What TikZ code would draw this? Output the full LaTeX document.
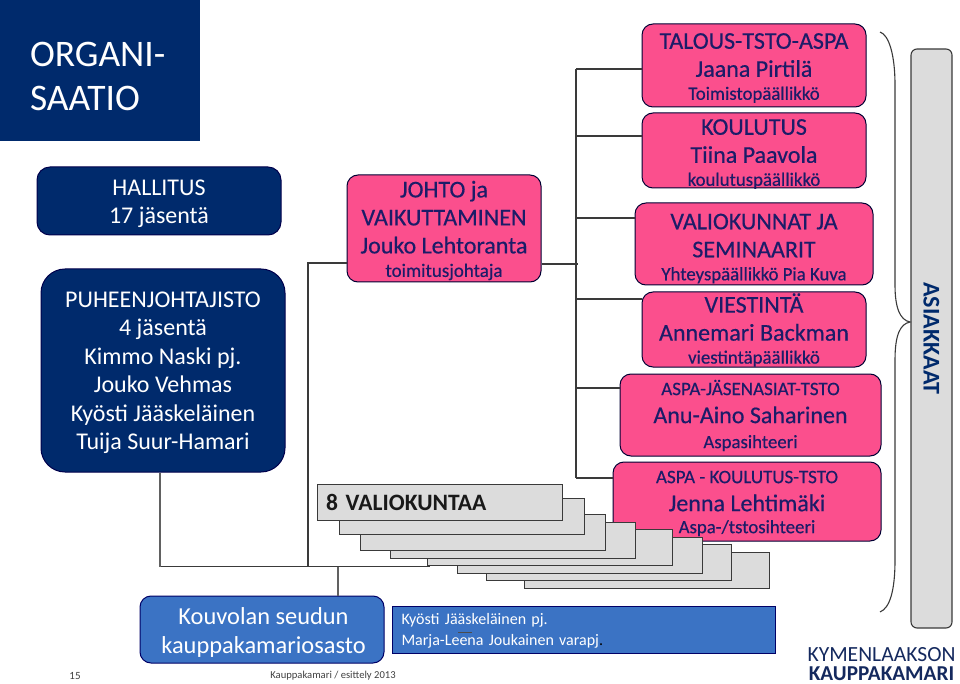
\documentclass[tikz,border=0pt]{standalone}
\usepackage{fontspec}
\setmainfont{Carlito}
\newfontfamily\semib[FakeBold=0.45]{Carlito}
\definecolor{pinkbox}{HTML}{FB4F8D}
\definecolor{navybox}{HTML}{002A6C}
\definecolor{inkblue}{HTML}{1C1C68}
\definecolor{bluebox}{HTML}{3B73C4}
\definecolor{greybox}{HTML}{DCDCDC}
\definecolor{lineg}{HTML}{3A3A3A}
\definecolor{logoblue}{HTML}{14295E}
\newcommand{\fs}[2]{\fontsize{#1}{#2}\selectfont}
\newcommand{\smalll}{\semib\fs{18.8}{24}}
\newcommand{\headl}{\semib\fs{19}{24}}
\tikzset{
  x=1pt,y=-1pt,
  pinkb/.style={draw=black!80!blue,line width=1pt,fill=pinkbox,rounded corners=11pt,inner sep=0pt},
  pinkt/.style={text=inkblue,align=center,inner sep=0pt,font=\semib\fs{24}{28}},
  navyb/.style={draw=black!70!blue,line width=1pt,fill=navybox,rounded corners=13pt,inner sep=0pt},
  navyt/.style={text=white,align=center,inner sep=0pt,font=\fs{24}{28.5}},
  blueb/.style={draw=black!60!blue,line width=1pt,fill=bluebox,text=white,inner sep=0pt},
  stackb/.style={draw=lineg,line width=1pt,fill=greybox,minimum width=245pt,minimum height=36pt,inner sep=0pt},
  conn/.style={draw=lineg,line width=1.1pt},
  connb/.style={draw=lineg!80,line width=1.5pt},
}
\begin{document}
\begin{tikzpicture}
\useasboundingbox (0,0) rectangle (960,684);
% header
\node[fill=navybox,minimum width=200pt,minimum height=141pt,inner sep=0pt,
  label={[text=white,align=left,inner sep=0pt,font=\fs{37.5}{43.5},text width=140pt,yshift=-6pt]center:{ORGANI-\\SAATIO}}] (org) at (100,70.5) {};
% connector anchors
\coordinate (busR) at (576,69);
\coordinate (busRb) at (576,478);
\coordinate (joinR) at (578,264);
\coordinate (busL) at (308,263);
\coordinate (busBl) at (160,566.5);
\coordinate (busBm) at (308,566.5);
\coordinate (busBk) at (338,566.5);
\coordinate (busBr) at (430,566.5);
% left column
\node[navyb,minimum width=244pt,minimum height=68pt,
  label={[navyt,yshift=-3pt]center:{HALLITUS\\17 jäsentä}}] (hall) at (159,201) {};
\node[navyb,rounded corners=24pt,minimum width=244pt,minimum height=203pt,
  label={[navyt,yshift=-2.5pt]center:{PUHEENJOHTAJISTO\\4 jäsentä\\Kimmo Naski pj.\\Jouko Vehmas\\Kyösti Jääskeläinen\\Tuija Suur-Hamari}}] (puh) at (163,370.5) {};
% middle
\node[pinkb,minimum width=194pt,minimum height=107pt,
  label={[pinkt,yshift=-2pt]center:{JOHTO ja\\VAIKUTTAMINEN\\Jouko Lehtoranta\\[-4.5pt]\semib\fs{19}{24}toimitusjohtaja}}] (joh) at (444,228.5) {};
% right column
\node[pinkb,minimum width=224pt,minimum height=83pt,
  label={[pinkt,yshift=-2.5pt]center:{TALOUS-TSTO-ASPA\\Jaana Pirtilä\\[-5pt]\smalll Toimistopäällikkö}}] (tal) at (754,65.5) {};
\node[pinkb,minimum width=224pt,minimum height=75pt,
  label={[pinkt,yshift=-3.5pt]center:{KOULUTUS\\Tiina Paavola\\[-5pt]\smalll koulutuspäällikkö}}] (kou) at (754,150.5) {};
\node[pinkb,minimum width=238pt,minimum height=82pt,
  label={[pinkt,yshift=-4.5pt]center:{VALIOKUNNAT JA\\SEMINAARIT\\[-5pt]\smalll Yhteyspäällikkö Pia Kuva}}] (val) at (754,244) {};
\node[pinkb,minimum width=224pt,minimum height=75pt,
  label={[pinkt,yshift=-.5pt]center:{VIESTINTÄ\\Annemari Backman\\[-5pt]\smalll viestintäpäällikkö}}] (vie) at (754,329.5) {};
\node[pinkb,minimum width=261pt,minimum height=82pt,
  label={[pinkt,yshift=-.5pt]center:{\headl ASPA-JÄSENASIAT-TSTO\\[0pt]Anu-Aino Saharinen\\[-3pt]\smalll Aspasihteeri}}] (asj) at (750.5,415) {};
\node[pinkb,minimum width=268pt,minimum height=79pt,
  label={[pinkt,yshift=-2pt]center:{\headl ASPA - KOULUTUS-TSTO\\[0pt]Jenna Lehtimäki\\[-6pt]\smalll Aspa-/tstosihteeri}}] (ask) at (747,501.5) {};
% connectors
\draw[conn] (busR) -- (busRb);
\draw[conn] (busR) -- (tal.west |- busR);
\coordinate (c2) at (576,136); \draw[conn] (c2) -- (kou.west |- c2);
\coordinate (c3) at (576,218); \draw[conn] (c3) -- (val.west |- c3);
\coordinate (c4) at (576,299); \draw[conn] (c4) -- (vie.west |- c4);
\coordinate (c5) at (576,388); \draw[conn] (c5) -- (asj.west |- c5);
\draw[conn] (busRb) -- (ask.west |- busRb);
\draw[conn] (joh.east |- joinR) -- (joinR);
\draw[conn] (busBm) -- (busL) -- (joh.west |- busL);
\draw[conn] (busBl) -- (busBr);
\draw[connb] (puh.south -| busBl) -- (busBl);
% stack
\node[stackb] (r8) at (646.5,570) {};
\node[stackb] (r7) at (609,562) {};
\node[stackb] (r6) at (579.5,555) {};
\node[stackb] (r5) at (549.5,547) {};
\node[stackb] (r4) at (512.5,540) {};
\node[stackb] (r3) at (482.5,532) {};
\node[stackb] (r2) at (461.5,516) {};
\node[stackb,text width=227pt,align=left,font=\fs{23.5}{28}\bfseries,text=black!90] (r1) at (439.5,502) {8 VALIOKUNTAA};
% bottom
\node[blueb,rounded corners=11pt,minimum width=244pt,minimum height=67pt,
  label={[text=white,align=center,inner sep=0pt,font=\fs{24.4}{29},yshift=-3pt,xshift=1.5pt]center:{Kouvolan seudun\\kauppakamariosasto}}] (kvl) at (262,629.5) {};
\draw[connb] (busBk) -- (kvl.north -| busBk);
\node[blueb,minimum width=383pt,minimum height=47pt,
  label={[text=white,align=left,inner sep=0pt,font=\fs{16}{21},text width=364pt,yshift=-1.5pt]center:{Kyösti Jääskeläinen pj.\\Marja-Leena Joukainen varapj{\color{black}.}}}] (pj) at (583.5,629.5) {};
\coordinate (ov1) at (458,632.5); \coordinate (ov2) at (472,632.5);
\draw[black!70,line width=.8pt] (ov1) -- (ov2);
% customers
\node[draw=lineg,line width=1.1pt,fill=greybox,rounded corners=6pt,rotate=-90,minimum width=579pt,minimum height=41pt,inner sep=0pt,text=navybox,font=\fs{24}{26}\bfseries] (asi) at (931.5,338.5) {ASIAKKAAT};
\coordinate (b1) at (880,32); \coordinate (b2) at (880,612); \coordinate (bp) at (910,322);
\draw[conn] (b1) .. controls (889,35) and (895,55) .. (895,85) -- (895,285) .. controls (895,308) and (900,320) .. (bp) .. controls (900,324) and (895,335) .. (895,360) -- (895,560) .. controls (895,590) and (890,608) .. (b2);
% footer
\node[text=black!75,inner sep=0pt,font=\fs{11}{13}] (pg) at (75,676) {15};
\node[text=black!75,inner sep=0pt,font=\fs{10.6}{13}] (foot) at (333,676) {Kauppakamari / esittely 2013};
% logo
\node[text=logoblue,inner sep=0pt,font=\fs{21.6}{22}] (lg1) at (881.5,655) {KYMENLAAKSON};
\node[text=logoblue,inner sep=0pt,font=\fs{21.2}{22}\bfseries,anchor=base] (lg2) at (881.5,680.5) {KAUPPAKAMARI};
\end{tikzpicture}
\end{document}
